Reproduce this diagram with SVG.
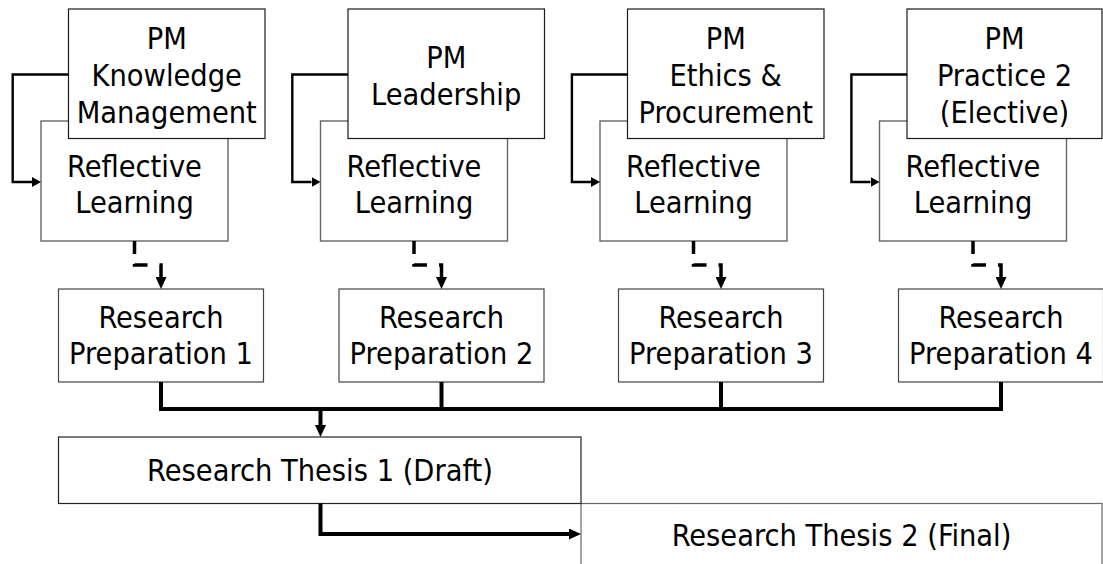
<svg xmlns="http://www.w3.org/2000/svg" width="1103" height="564" viewBox="0 0 1103 564">
<style>
text{font-family:"DejaVu Sans Condensed","DejaVu Sans","Liberation Sans",sans-serif;font-stretch:condensed;font-size:30.4px;fill:#000;text-anchor:middle}
.pm{fill:#fff;stroke:#1a1a1a;stroke-width:1.2}
.rl{fill:#fff;stroke:#666;stroke-width:1.4}
.rp{fill:#fff;stroke:#444;stroke-width:1.2}
.th{fill:#fff;stroke:#222;stroke-width:1.2}
.th2{fill:#fff;stroke:#666;stroke-width:1.2}
.c1{fill:none;stroke:#000;stroke-width:2.4}
.cd{fill:none;stroke:#000;stroke-width:3.5;stroke-dasharray:13 10 14 12 40}
.cb{fill:none;stroke:#000;stroke-width:4}
</style>
<defs>
<marker id="as" markerUnits="userSpaceOnUse" markerWidth="9" markerHeight="10" refX="0" refY="5" orient="auto"><path d="M0,0L9,5L0,10z" fill="#000"/></marker>
<marker id="al" markerUnits="userSpaceOnUse" markerWidth="12" markerHeight="11" refX="0" refY="5.5" orient="auto"><path d="M0,0L12,5.5L0,11z" fill="#000"/></marker>
</defs>
<rect width="1103" height="564" fill="#fff"/>
<g id="col1">
<g id="reflective1"><rect class="rl" x="41" y="121" width="187" height="120"/><text x="134.5" y="177">Reflective</text><text x="134.5" y="213">Learning</text></g>
<g id="pm1"><rect class="pm" x="68.5" y="9" width="196.5" height="129.5"/><text x="166.7" y="49">PM</text><text x="166.7" y="86">Knowledge</text><text x="166.7" y="123">Management</text></g>
</g>
<g id="col2">
<g id="reflective2"><rect class="rl" x="320.5" y="121" width="187" height="120"/><text x="414" y="177">Reflective</text><text x="414" y="213">Learning</text></g>
<g id="pm2"><rect class="pm" x="348" y="9" width="196.5" height="129.5"/><text x="446.2" y="67.5">PM</text><text x="446.2" y="104.5">Leadership</text></g>
</g>
<g id="col3">
<g id="reflective3"><rect class="rl" x="600" y="121" width="187" height="120"/><text x="693.5" y="177">Reflective</text><text x="693.5" y="213">Learning</text></g>
<g id="pm3"><rect class="pm" x="627.5" y="9" width="196.5" height="129.5"/><text x="725.7" y="49">PM</text><text x="725.7" y="86">Ethics &amp;</text><text x="725.7" y="123">Procurement</text></g>
</g>
<g id="col4">
<g id="reflective4"><rect class="rl" x="879.5" y="121" width="187" height="120"/><text x="973" y="177">Reflective</text><text x="973" y="213">Learning</text></g>
<g id="pm4"><rect class="pm" x="907" y="9" width="195" height="129.5"/><text x="1004.5" y="49">PM</text><text x="1004.5" y="86">Practice 2</text><text x="1004.5" y="123">(Elective)</text></g>
</g>
<g id="prep1"><rect class="rp" x="58.5" y="289" width="205" height="93"/><text x="161" y="327.5">Research</text><text x="161" y="363.5">Preparation 1</text></g>
<g id="prep2"><rect class="rp" x="339" y="289" width="205" height="93"/><text x="441.5" y="327.5">Research</text><text x="441.5" y="363.5">Preparation 2</text></g>
<g id="prep3"><rect class="rp" x="618.5" y="289" width="205" height="93"/><text x="721" y="327.5">Research</text><text x="721" y="363.5">Preparation 3</text></g>
<g id="prep4"><rect class="rp" x="898.5" y="289" width="205" height="93"/><text x="1001" y="327.5">Research</text><text x="1001" y="363.5">Preparation 4</text></g>
<g id="thesis2"><rect class="th2" x="581" y="503.5" width="521" height="70"/><text x="841.5" y="546">Research Thesis 2 (Final)</text></g>
<g id="thesis1"><rect class="th" x="58.5" y="437" width="522.5" height="66.5"/><text x="320" y="481">Research Thesis 1 (Draft)</text></g>
<g id="connectors">
<path class="c1" d="M68.5,74.5H12.7V182H32" marker-end="url(#as)"/>
<path class="c1" d="M348,74.5H292.3V182H311.5" marker-end="url(#as)"/>
<path class="c1" d="M627.5,74.5H571.9V182H591" marker-end="url(#as)"/>
<path class="c1" d="M907,74.5H851.4V182H870.5" marker-end="url(#as)"/>
<path class="cd" d="M134.5,241V265H161V277" marker-end="url(#al)"/>
<path class="cd" d="M414,241V265H441.5V277" marker-end="url(#al)"/>
<path class="cd" d="M693.5,241V265H721V277" marker-end="url(#al)"/>
<path class="cd" d="M973,241V265H1001V277" marker-end="url(#al)"/>
<path class="cb" d="M161,382V409H1001V382"/>
<path class="cb" d="M441.5,382V409"/>
<path class="cb" d="M721,382V409"/>
<path class="cb" d="M320.5,409V425" marker-end="url(#al)"/>
<path class="cb" d="M320.5,503.5V534H569" marker-end="url(#al)"/>
</g>
</svg>
